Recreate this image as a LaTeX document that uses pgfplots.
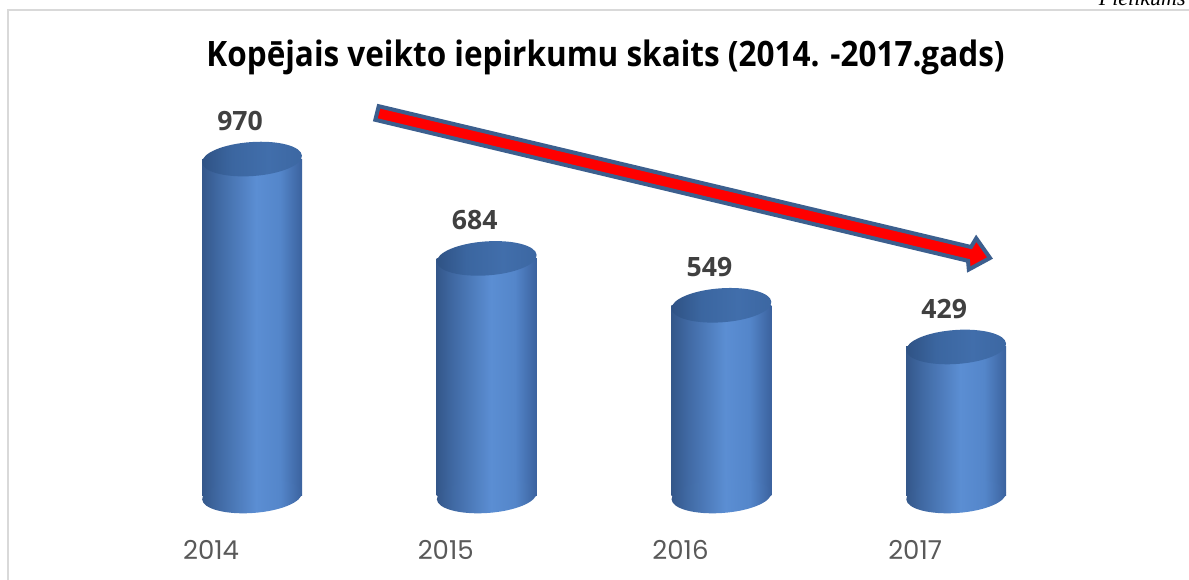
\documentclass[border=0pt]{standalone}
\usepackage{pgfplots}
\pgfplotsset{compat=1.18}
\usepackage{fontspec}
\setmainfont{Open Sans}
\newfontfamily\tickfont{Poppins}
\newfontfamily\serifit{Liberation Serif}

\definecolor{cA}{HTML}{34578A}
\definecolor{cB}{HTML}{4069A3}
\definecolor{cC}{HTML}{5B8ED3}
\definecolor{cD}{HTML}{5486CA}
\definecolor{cE}{HTML}{3B629E}
\definecolor{tA}{HTML}{2F5284}
\definecolor{tB}{HTML}{3B66A0}
\definecolor{tC}{HTML}{416EAB}
\definecolor{tD}{HTML}{3C67A2}
\definecolor{arrowblue}{HTML}{3C5F8E}
\definecolor{labgray}{HTML}{404040}
\definecolor{tickgray}{HTML}{595959}
\definecolor{framegray}{HTML}{D9D9D9}

\pgfdeclarehorizontalshading{cylbar}{100bp}{color(0bp)=(cA); color(25bp)=(cA); color(33bp)=(cB); color(52bp)=(cC); color(64bp)=(cD); color(75bp)=(cE); color(100bp)=(cE)}
\pgfdeclarehorizontalshading{cyltopsh}{100bp}{color(0bp)=(tA); color(25bp)=(tA); color(40bp)=(tB); color(58bp)=(tC); color(75bp)=(tD); color(100bp)=(tD)}

\pgfdeclareplotmark{cyltop}{%
  \pgftransformrotate{4}%
  \pgfpathellipse{\pgfpointorigin}{\pgfqpoint{25pt}{0pt}}{\pgfqpoint{0pt}{8.5pt}}%
  \pgfshadepath{cyltopsh}{0}%
  \pgfusepath{discard}%
}
\pgfdeclareplotmark{cylbot}{%
  \pgftransformrotate{4}%
  \pgfpathellipse{\pgfpointorigin}{\pgfqpoint{25pt}{0pt}}{\pgfqpoint{0pt}{8.5pt}}%
  \pgfshadepath{cylbar}{0}%
  \pgfusepath{discard}%
}

\begin{document}
\begin{tikzpicture}
\path[use as bounding box] (0,0) rectangle (594.5pt,289.5pt);
% frame and page header
\begin{scope}[x=0.5pt,y=-0.5pt,yshift=289.5pt]
\draw[framegray, line width=0.8pt] (8,590) -- (8,10) -- (1200,10);
\node[anchor=base east, font=\serifit\itshape\fontsize{11}{13}\selectfont, inner sep=0pt] at (1186,6) {Pielikums};
\end{scope}
\begin{axis}[
  at={(20.4pt,15.45pt)}, anchor=south west,
  scale only axis, width=563.3pt, height=217.1pt,
  xmin=-0.9, xmax=3.9, ymin=-150, ymax=1100,
  axis line style={draw=none},
  major tick length=0pt,
  ytick=\empty,
  xtick={0,1,2,3},
  xticklabels={2014,2015,2016,2017},
  xticklabel style={anchor=center, xshift=-20.5pt, yshift=-1pt, text=tickgray, font=\tickfont\fontsize{13}{15}\selectfont},
  clip=false,
  cylstyle/.style={ybar, bar width=50pt, bar shift=0pt, draw=none, shade, shading=cylbar},
]
\addplot[only marks, mark=cylbot] coordinates {(0,0) (1,0) (2,0) (3,0)};
\addplot[cylstyle] coordinates {(0,970)};
\addplot[cylstyle] coordinates {(1,684)};
\addplot[cylstyle] coordinates {(2,549)};
\addplot[cylstyle] coordinates {(3,429)};
\addplot[only marks, mark=cyltop, point meta=explicit symbolic, nodes near coords,
  every node near coord/.style={anchor=center, xshift=-6pt, yshift=19pt, text=labgray, font=\bfseries\fontsize{13.3}{15}\selectfont}]
  coordinates {(0,970) [970] (1,684) [684] (2,549) [549] (3,429) [429]};
\end{axis}
\begin{scope}[x=0.5pt,y=-0.5pt,yshift=289.5pt]
\node[anchor=base, xscale=0.9, font=\bfseries\fontsize{17.5}{20}\selectfont, inner sep=0pt] at (605.5,67) {Kopējais veikto iepirkumu skaits (2014. -2017.gads)};
\draw[arrowblue, fill=red, line width=2pt, line join=miter]
  (378.7,106.2) -- (971.0,247.0) -- (976.2,238.3) -- (990,258) -- (968.8,269.5) -- (968.0,260.8) -- (375.3,119.8) -- cycle;
\end{scope}
\end{tikzpicture}
\end{document}
